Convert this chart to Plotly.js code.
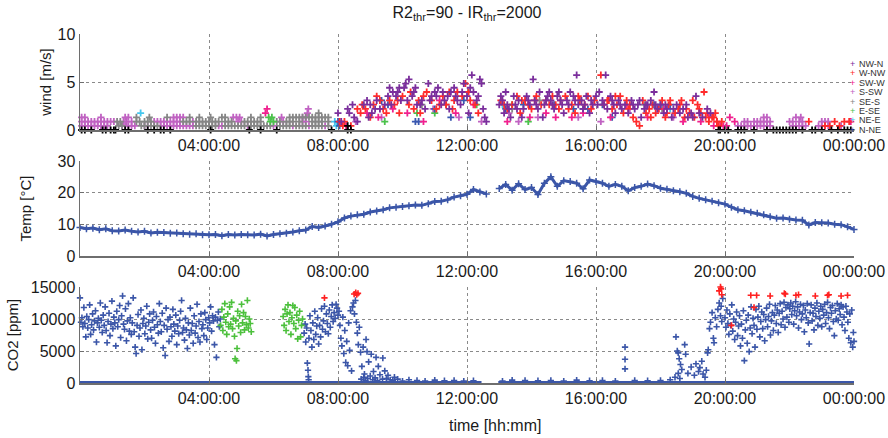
<!DOCTYPE html>
<html><head><meta charset="utf-8">
<script src="https://cdn.plot.ly/plotly-3.0.1.min.js"></script>
<style>html,body{margin:0;padding:0;background:#fff}#chart{width:888px;height:438px}</style>
</head><body><div id="chart"></div>
<script>
// ---------- axis ticks ----------
const timeTicks = [4, 8, 12, 16, 20, 24];
const timeLabels = ['04:00:00', '08:00:00', '12:00:00', '16:00:00', '20:00:00', '00:00:00'];
const windTicks = [0, 5, 10];
const tempTicks = [0, 10, 20, 30];
const co2Ticks = [0, 5000, 10000, 15000];
const co2TickLabels = ['0', '5000', '10000', '15000'];

// ---------- wind categories ----------
const windNames = ['NW-N', 'W-NW', 'SW-W', 'S-SW', 'SE-S', 'E-SE', 'NE-E', 'N-NE'];
const windColors = ['#7a2e9c', '#ff2b2b', '#f0208e', '#c062c2', '#868686', '#4cc24c', '#44c6ee', '#3a58b0'];

// [hour, m/s]
const windNWN = [
 [8.0,1.76],[8.1,0.88],[8.3,2.2],[8.35,1.76],[8.5,1.32],[8.6,0.88],[8.8,2.64],[8.9,3.08],[9.0,2.64],[9.05,1.76],
 [9.2,3.08],[9.3,2.2],[9.45,2.64],[9.55,3.52],[9.6,4.4],[9.7,3.96],[9.8,3.52],[9.85,3.96],[9.95,3.08],
 [10.05,4.4],[10.1,4.84],[10.2,5.28],[10.3,3.52],[10.4,4.4],[10.45,2.64],[10.6,3.08],[10.7,2.2],[10.8,4.84],[10.9,3.52],
 [11.0,3.96],[11.1,4.4],[11.2,2.64],[11.3,3.08],[11.4,3.52],[11.5,3.96],[11.6,4.4],[11.7,3.08],[11.8,2.64],[11.9,4.84],
 [12.0,3.52],[12.05,1.76],[12.15,5.72],[12.2,3.96],[12.3,3.08],[12.4,5.28],[12.45,4.84],[12.5,2.2],[12.55,1.32],[12.6,0.88],
 [13.0,2.64],[13.1,3.08],[13.15,1.76],[13.2,3.96],[13.3,2.2],[13.35,1.32],[13.45,3.52],[13.5,2.64],[13.6,3.08],[13.7,1.32],[13.75,2.2],[13.85,3.52],[13.95,2.64],
 [14.05,5.28],[14.1,3.08],[14.2,2.2],[14.25,3.96],[14.35,1.32],[14.4,2.64],[14.5,3.52],[14.55,3.96],[14.6,3.08],[14.7,2.2],[14.8,3.52],[14.85,3.96],[14.95,2.64],
 [15.0,1.76],[15.1,3.08],[15.2,3.96],[15.3,3.52],[15.4,5.72],[15.45,2.64],[15.55,3.08],[15.6,2.2],[15.7,3.52],[15.8,1.76],[15.9,2.64],
 [16.05,2.64],[16.1,3.96],[16.2,3.08],[16.3,5.72],[16.35,2.2],[16.45,3.52],[16.55,2.64],[16.6,1.76],[16.7,3.08],[16.8,2.2],[16.9,2.64],
 [17.0,1.76],[17.1,3.08],[17.2,2.2],[17.3,2.64],[17.4,1.32],[17.5,2.2],[17.6,2.64],[17.7,3.08],[17.8,3.96],[17.9,2.2],
 [18.0,2.64],[18.1,1.76],[18.2,2.2],[18.35,1.32],[18.5,2.64],[18.6,1.76],[18.7,2.2],[18.85,1.32],[18.95,1.76],
 [19.1,3.52],[19.2,1.76],[19.3,1.32],[19.45,2.2],[19.55,1.76],
 [8.45,2.64],[8.95,1.32],[9.15,2.2],[9.65,2.64],[9.9,4.4],[10.15,3.08],[10.35,3.96],[10.55,2.64],[10.85,3.08],[11.05,3.52],
 [11.25,3.96],[11.45,2.2],[11.65,3.52],[11.85,3.96],[12.1,4.4],[12.35,3.52],[13.05,3.52],[13.25,2.64],[13.55,2.2],[13.9,3.08],
 [14.15,2.64],[14.45,3.08],[14.65,2.64],[14.9,3.08],[15.15,2.64],[15.35,3.08],[15.65,2.64],[15.85,3.08],[16.0,3.52],[16.25,2.64],
 [16.5,3.08],[16.75,2.64],[17.15,2.64],[17.35,3.08],[17.55,2.64],[17.85,2.64],[18.15,2.64],[18.4,2.2],[18.8,2.64],[19.0,1.32]
];
const windWNW = [
 [8.05,0.88],[8.15,0.44],[8.2,0.88],[8.4,0.44],[8.6,2.2],[8.7,1.76],[8.75,2.64],[9.0,1.32],[9.1,2.64],[9.2,3.52],
 [9.4,2.2],[9.5,1.76],[9.6,3.08],[9.75,2.64],[9.9,1.76],[10.0,3.52],[10.25,3.96],[10.35,2.2],[10.5,3.08],[10.55,1.76],
 [10.75,3.96],[10.9,3.08],[11.05,2.2],[11.25,3.52],[11.35,2.64],[11.45,3.96],[11.55,2.2],[11.7,3.96],[11.85,3.52],[11.95,4.84],
 [12.1,3.08],[12.25,2.64],[12.35,1.76],[13.05,3.08],[13.25,2.2],[13.4,2.64],[13.55,3.52],[13.65,1.76],[13.8,3.08],[13.9,2.64],
 [14.0,2.2],[14.15,3.52],[14.3,2.64],[14.45,3.08],[14.65,3.52],[14.75,2.64],[14.9,3.08],[15.05,3.52],[15.15,2.2],[15.25,2.64],
 [15.35,1.76],[15.5,3.08],[15.65,2.64],[15.75,3.52],[15.85,2.2],[16.15,5.72],[16.25,2.64],[16.4,3.08],[16.5,2.2],[16.65,2.64],
 [16.75,3.52],[16.85,1.76],[16.95,3.08],[17.05,2.64],[17.15,1.32],[17.25,0.88],[17.35,0.44],[17.45,3.08],[17.55,1.76],[17.7,1.32],
 [17.75,2.64],[17.85,1.76],[17.95,2.2],[18.05,3.08],[18.15,1.32],[18.25,2.64],[18.3,3.08],[18.45,1.76],[18.55,2.2],[18.65,3.08],
 [18.75,1.32],[18.8,2.2],[18.9,1.76],[19.0,3.08],[19.05,1.32],[19.15,2.64],[19.25,1.76],[19.35,3.96],[19.4,1.32],[19.5,0.88],
 [19.6,1.32],[19.7,1.76],[19.75,0.88],[19.8,0.44],[19.9,0.88],[22.6,0.88],[23.1,0.44],[23.25,0.44],[23.4,0.88],[23.55,0.44],[23.7,0.88],[23.85,0.88],
 [8.85,2.2],[9.3,3.08],[9.85,3.08],[10.2,2.64],[10.65,3.52],[11.15,2.64],[11.6,3.08],[12.05,3.96],[13.15,2.64],[13.7,3.08],
 [14.1,3.08],[14.55,2.64],[14.85,2.2],[15.45,3.52],[15.95,3.08],[16.35,3.08],[16.6,3.52],[17.0,2.2],[17.65,2.2],[18.2,1.76],
 [18.6,2.64],[19.2,2.2],[19.45,1.76],[19.65,1.32]
];
const windSWW = [
 [5.75,1.76],[5.8,2.2],[8.25,0.44],[8.9,1.76],[9.25,1.32],[9.7,2.2],[10.15,1.76],[10.65,0.88],[11.15,3.08],[11.65,1.76],
 [12.2,2.64],[13.25,0.88],[13.95,1.32],[14.45,1.76],[14.75,1.32],[15.25,1.32],[15.6,1.76],[16.45,1.32],[16.95,2.64],[17.6,1.32],
 [18.1,2.2],[18.7,0.88],[19.25,0.88],[19.5,1.32],[19.65,0.44],[19.75,0.88],[19.85,0.44],[19.95,0.44],[20.05,0.44],[20.15,1.32],[20.3,0.88],[23.9,0.88]
];
const windSSW = [
 [0.05,0.88],[0.15,0.88],[0.25,0.88],[0.35,0.88],[0.45,0.88],[0.55,0.88],[0.65,0.88],[0.75,0.88],[0.85,0.88],[0.95,0.88],[1.05,0.88],
 [1.35,0.88],[1.45,0.88],[1.6,0.88],[2.3,0.88],[2.4,0.88],[2.5,0.88],[2.6,0.88],[2.7,0.88],[2.8,0.88],[2.9,0.88],[3.0,0.88],[3.1,0.88],
 [3.5,0.88],[4.9,0.88],[5.0,0.88],[6.3,0.88],[6.9,0.88],[7.0,0.88],
 [0.05,0.44],[0.15,0.44],[0.25,0.44],[0.35,0.44],[0.45,0.44],[0.55,0.44],[0.65,0.44],[0.75,0.44],[0.85,0.44],[1.3,0.44],[1.4,0.44],
 [1.5,0.44],[1.6,0.44],[1.7,0.44],[2.0,0.44],[2.1,0.44],[2.5,0.44],[2.6,0.44],[2.7,0.44],[2.8,0.44],[2.9,0.44],[3.0,0.44],[3.1,0.44],
 [3.2,0.44],[3.3,0.44],[3.4,0.44],[3.5,0.44],[4.3,0.44],[4.4,0.44],[5.2,0.44],[6.0,0.44],[6.6,0.44],[7.1,0.44],[7.6,0.44],
 [0.05,1.32],[0.15,1.32],[0.65,1.32],[1.4,1.32],[1.5,1.32],[2.9,1.32],[3.0,1.32],[3.1,1.32],[3.2,1.32],[4.75,1.32],[4.85,1.32],
 [4.95,1.32],[6.25,1.32],[6.9,1.32],[7.0,1.32],[7.05,1.76],[7.08,2.2],
 [8.55,0.88],[9.35,1.32],[10.95,2.2],[11.75,1.32],[12.45,0.88],[13.3,1.76],[13.6,0.88],[14.2,1.32],[15.45,1.32],[16.15,0.88],[17.05,2.2],[18.4,1.32],
 [20.4,0.44],[20.5,0.44],[20.6,0.44],[20.7,0.44],[20.8,0.44],[20.9,0.44],[21.0,0.44],[21.1,0.44],[21.2,0.44],[21.3,0.44],[21.4,0.44],
 [22.1,0.44],[22.2,0.44],[22.3,0.44],[22.4,0.44],[22.5,0.44],[22.9,0.44],[23.0,0.44],[23.1,0.44],[23.2,0.44],[23.6,0.44],
 [20.6,0.88],[20.7,0.88],[20.9,0.88],[21.0,0.88],[21.1,0.88],[21.2,0.88],[21.3,0.88],[21.4,0.88],[22.0,0.88],[22.1,0.88],[22.3,0.88],
 [22.4,0.88],[23.0,0.88],[23.1,0.88],[23.2,0.88],[21.2,1.32],[21.3,1.32],[22.2,1.32],[22.35,1.32]
];
const windSES = [
 [1.75,1.32],[2.15,1.32],[2.7,1.32],[3.4,1.32],[3.7,1.32],[4.05,1.32],[4.4,1.32],[4.5,1.32],[5.3,1.32],[5.6,1.32],[6.5,1.32],[6.6,1.32],
 [6.7,1.32],[6.8,1.32],[6.9,1.32],[7.0,1.32],[7.1,1.32],[7.2,1.32],[7.3,1.32],[7.4,1.32],[7.5,1.32],[7.6,1.32],[7.7,1.32],[7.4,1.76],
 [1.15,0.88],[1.25,0.88],[1.75,0.88],[1.85,0.88],[2.0,0.88],[2.1,0.88],[2.2,0.88],[3.2,0.88],[3.3,0.88],[3.4,0.88],[3.6,0.88],[3.7,0.88],
 [3.8,0.88],[3.9,0.88],[4.0,0.88],[4.1,0.88],[4.2,0.88],[4.3,0.88],[4.5,0.88],[4.6,0.88],[4.7,0.88],[5.1,0.88],[5.2,0.88],[5.3,0.88],
 [5.4,0.88],[5.5,0.88],[5.6,0.88],[6.1,0.88],[6.2,0.88],[6.4,0.88],[6.5,0.88],[6.6,0.88],[6.8,0.88],[7.2,0.88],[7.3,0.88],[7.4,0.88],
 [7.5,0.88],[7.7,0.88],
 [1.2,0.44],[1.3,0.44],[1.9,0.44],[2.0,0.44],[2.2,0.44],[2.3,0.44],[2.4,0.44],[3.6,0.44],[3.7,0.44],[3.8,0.44],[3.9,0.44],[4.0,0.44],
 [4.1,0.44],[4.2,0.44],[4.5,0.44],[4.6,0.44],[4.7,0.44],[4.8,0.44],[4.9,0.44],[5.0,0.44],[5.1,0.44],[5.3,0.44],[5.4,0.44],[5.5,0.44],
 [5.6,0.44],[5.7,0.44],[5.8,0.44],[5.9,0.44],[6.2,0.44],[6.3,0.44],[6.4,0.44],[6.5,0.44],[6.7,0.44],[6.8,0.44],[6.9,0.44],[7.0,0.44],
 [7.2,0.44],[7.3,0.44],[7.4,0.44],[7.5,0.44],[7.7,0.44],
 [10.6,2.64],[11.35,2.64],[13.4,2.2],[14.25,3.08],[17.5,2.64],[18.05,2.2]
];
const windESE = [[5.85,1.32],[5.9,0.88],[5.95,1.32],[6.0,0.88],[9.45,0.88],[10.45,1.76],[11.0,1.76],[12.3,2.64],[13.4,2.64],[13.9,0.88]];
const windNEE = [[1.88,1.76],[7.9,0.88],[7.95,0.44],[13.1,2.64],[18.3,2.2]];
const windNNE = [
 [8.0,0.88],[8.05,0.44],[9.35,3.08],[9.55,2.64],[10.4,0.88],[10.5,0.88],[11.0,2.2],[11.5,1.32],[11.9,3.08],[12.1,1.32],
 [13.2,2.2],[13.75,2.64],[14.7,2.64],[15.3,2.2],[15.6,2.2],[15.75,2.2],[16.2,2.64],[16.5,1.32],[17.8,2.64],[18.0,2.64],[18.3,2.64]
];
const windCalm = [
 [0.05,0],[0.15,0],[0.35,0],[0.7,0],[0.8,0],[0.95,0],[1.05,0],[1.1,0],[1.4,0],[1.5,0],[2.1,0],[2.3,0],[2.5,0],[2.6,0],[2.8,0],
 [4.05,0],[5.25,0],[5.6,0],[6.1,0],[7.8,0],[8.3,0],[8.3,0.44],[8.4,0],[19.8,0],[19.85,0],[20.0,0],[20.1,0],[20.4,0],[20.5,0],[20.6,0],
 [20.9,0],[21.3,0],[21.5,0],[21.6,0],[21.7,0],[21.8,0],[21.9,0],[22.0,0],[22.1,0],[22.2,0],[22.4,0],[22.7,0],[22.8,0],[23.0,0],
 [23.3,0],[23.5,0],[23.7,0],[23.8,0],[23.9,0]
];
const windSeries = [windNWN, windWNW, windSWW, windSSW, windSES, windESE, windNEE, windNNE];

// ---------- temperature [hour, °C] ----------
const temp = [
 [0.0,9.0],[0.2,8.6],[0.4,8.8],[0.6,8.3],[0.8,8.6],[1.0,8.0],[1.2,7.9],[1.4,8.2],[1.6,7.8],[1.8,7.6],
 [2.0,7.8],[2.2,7.3],[2.4,7.5],[2.6,7.4],[2.8,7.2],[3.0,7.3],[3.2,7.0],[3.4,6.9],[3.6,7.0],[3.8,6.7],
 [4.0,6.7],[4.2,6.8],[4.4,6.4],[4.6,6.8],[4.8,6.6],[5.0,6.8],[5.2,6.7],[5.4,6.6],[5.6,6.9],[5.8,6.3],
 [6.0,6.8],[6.2,7.0],[6.4,7.2],[6.6,7.6],[6.8,8.0],[7.0,8.2],[7.2,9.3],[7.4,9.0],[7.6,9.5],[7.8,10.0],
 [8.0,10.8],[8.2,12.0],[8.4,12.6],[8.6,13.0],[8.8,13.2],[9.0,13.9],[9.2,14.2],[9.4,14.6],[9.6,15.2],[9.8,15.4],
 [10.0,15.6],[10.2,15.9],[10.4,16.1],[10.6,16.0],[10.8,16.5],[11.0,17.2],[11.2,17.3],[11.4,17.8],[11.6,18.6],[11.8,19.0],
 [12.0,19.5],[12.2,21.0],[12.4,20.2],[12.6,19.6],[12.8,null],
 [13.0,21.3],[13.2,22.6],[13.4,20.8],[13.6,22.8],[13.8,21.0],[14.0,21.6],[14.2,19.4],[14.4,23.0],[14.6,25.0],[14.8,22.0],
 [15.0,23.8],[15.2,23.5],[15.4,23.0],[15.6,21.2],[15.8,24.0],[16.0,23.5],[16.2,23.0],[16.4,22.0],[16.6,22.6],[16.8,22.0],
 [17.0,20.6],[17.2,21.6],[17.4,22.0],[17.6,22.7],[17.8,22.2],[18.0,21.4],[18.2,21.1],[18.4,20.6],[18.6,20.3],[18.8,19.8],
 [19.0,18.8],[19.2,18.2],[19.4,17.8],[19.6,17.3],[19.8,16.8],[20.0,16.4],[20.2,15.4],[20.4,14.6],[20.6,14.3],[20.8,13.8],
 [21.0,13.5],[21.2,13.0],[21.4,12.4],[21.6,11.9],[21.8,12.0],[22.0,11.6],[22.2,11.4],[22.4,11.3],[22.6,9.8],[22.8,10.6],
 [23.0,10.5],[23.2,10.4],[23.4,10.0],[23.6,9.9],[23.8,9.2],[24.0,8.4]
];

// ---------- CO2 [hour, ppm] ----------
const co2ZeroT = [0, 12.45, null, 12.97, 24];
const co2ZeroV = [0, 0, null, 0, 0];
const co2Blue = [
 [0.00,13300],[0.03,9500],[0.06,10200],[0.09,8800],[0.12,11800],[0.15,9300],[0.18,7200],[0.21,10400],[0.24,8600],[0.27,9900],
 [0.30,12200],[0.33,7600],[0.36,9100],[0.39,10800],[0.42,8300],[0.45,9700],[0.48,11300],[0.51,6400],[0.54,9400],[0.57,10100],
 [0.60,8700],[0.63,12500],[0.66,9800],[0.69,7900],[0.72,10600],[0.75,9000],[0.78,11900],[0.81,8200],[0.84,6300],[0.87,9600],
 [0.90,10900],[0.93,7400],[0.96,9200],[0.99,12800],[1.02,8500],[1.05,10300],[1.08,9400],[1.11,5800],[1.14,11200],[1.17,8800],
 [1.20,9900],[1.23,12100],[1.26,7100],[1.29,10500],[1.32,13600],[1.35,9200],[1.38,8400],[1.41,11600],[1.44,6600],[1.47,9700],
 [1.50,12400],[1.53,8100],[1.56,10200],[1.59,7600],[1.62,9400],[1.65,13300],[1.68,8000],[1.71,5600],[1.74,4600],[1.77,9000],
 [1.80,10700],[1.83,7300],[1.86,8600],[1.89,11400],[1.92,5200],[1.95,9300],[1.98,10100],[2.01,7700],[2.04,8900],[2.07,12000],
 [2.10,6900],[2.13,9500],[2.16,10800],[2.19,8300],[2.22,7000],[2.25,9800],[2.28,11100],[2.31,8700],[2.34,6200],[2.37,10400],
 [2.40,9100],[2.43,7800],[2.46,12400],[2.49,9600],[2.52,8000],[2.55,10900],[2.58,5500],[2.61,9000],[2.64,4300],[2.67,11700],
 [2.70,8400],[2.73,9900],[2.76,6500],[2.79,10300],[2.82,8800],[2.85,7300],[2.88,11500],[2.91,9200],[2.94,8100],[2.97,10600],
 [3.00,6000],[3.03,8900],[3.06,7700],[3.09,9800],[3.12,11200],[3.15,12900],[3.18,7900],[3.21,8600],[3.24,6700],[3.27,10100],
 [3.30,8300],[3.33,5400],[3.36,9400],[3.39,7500],[3.42,11700],[3.45,8200],[3.48,9300],[3.51,6200],[3.54,10500],[3.57,7800],
 [3.60,8900],[3.63,12300],[3.66,7100],[3.69,9600],[3.72,6400],[3.75,10800],[3.78,8500],[3.81,9100],[3.84,7400],[3.87,11000],
 [3.90,9900],[3.93,6800],[3.96,8600],[3.99,10200],[4.02,9400],[4.05,11900],[4.08,8100],[4.11,10500],[4.14,9700],[4.17,6000],
 [4.20,10300],[4.23,4000],[4.26,9800],[4.29,11100],[4.32,8800],[4.35,10000],
 [6.95,7800],[6.98,9200],[7.00,6400],[7.03,8600],[7.05,3100],[7.07,2000],[7.08,1000],[7.09,500],[7.10,7000],[7.13,10500],
 [7.16,8200],[7.19,5600],[7.22,9400],[7.25,6800],[7.28,11200],[7.31,7600],[7.34,8900],[7.37,10200],[7.40,6100],[7.43,9000],
 [7.46,7200],[7.49,11600],[7.52,8400],[7.55,9700],[7.58,12000],[7.61,8000],[7.64,10800],[7.67,9300],[7.70,7700],[7.73,11400],
 [7.76,8700],[7.79,10400],[7.82,12200],[7.85,9600],[7.88,11000],[7.91,10100],[7.94,12300],[7.97,11700],[8.00,10600],[8.03,11200],
 [8.06,9000],[8.09,7000],[8.12,5800],[8.15,10300],[8.18,4600],[8.21,8200],[8.24,3200],[8.27,6500],[8.30,2700],[8.33,9400],
 [8.36,5100],[8.39,11300],[8.42,1900],[8.45,11900],[8.48,12500],[8.51,10800],[8.54,12900],[8.57,9500],[8.60,7800],[8.63,6000],
 [8.66,8700],[8.70,4800],[8.74,2600],[8.78,5600],[8.82,1400],[8.87,6800],[8.90,4900],[8.95,3300],[9.03,4500],[9.10,1800],
 [9.18,4000],[9.25,2600],[9.39,3900],[9.45,1900],[9.55,1200],[9.75,900],
 [8.72,600],[8.80,900],[8.85,400],[8.92,700],[9.00,1100],[9.08,500],[9.15,800],[9.22,400],[9.30,1300],[9.38,600],
 [9.50,700],[9.62,500],[9.70,400],[9.85,600],[10.0,300],[10.2,500],[10.45,400],[10.7,300],[11.0,450],[11.3,350],
 [11.6,400],[11.9,300],[12.2,350],[13.1,300],[13.4,450],[13.8,400],[14.2,350],[14.6,400],[15.0,300],[15.4,450],
 [15.8,350],[16.2,400],[16.6,300],[16.9,2200],[16.9,3700],[16.9,5600],[17.2,400],[17.6,350],[18.0,400],[18.3,500],
 [18.45,900],[18.55,1500],[18.6,700],
 [18.48,7200],[18.52,5000],[18.55,4700],[18.58,3800],[18.62,2900],[18.66,2100],[18.75,6000],[18.78,4500],[18.85,1500],[18.95,2500],
 [19.05,1200],[19.10,3000],[19.18,1800],[19.22,2400],[19.28,3400],[19.32,1400],[19.38,900],[19.42,2000],[19.46,4700],[19.48,5200],
 [19.52,8500],[19.55,9500],[19.60,11000],[19.64,7000],[19.66,6300],[19.70,10200],[19.74,8800],[19.78,11500],[19.82,12500],[19.86,10500],
 [19.88,12000],[19.90,9600],[19.93,13200],
 [20.00,10200],[20.03,8700],[20.06,11400],[20.09,9300],[20.12,7600],[20.15,10800],[20.18,9000],[20.21,12200],[20.24,8100],[20.27,10000],
 [20.30,6800],[20.33,9500],[20.36,11100],[20.39,7400],[20.42,8900],[20.45,10500],[20.48,5800],[20.51,9200],[20.54,7000],[20.57,11300],
 [20.60,3500],[20.63,8300],[20.66,9800],[20.69,6200],[20.72,10600],[20.75,4900],[20.78,8600],[20.81,11900],[20.84,7700],[20.87,10100],
 [20.90,9000],[20.93,5600],[20.96,11500],[20.99,8400],[21.02,10300],[21.05,12000],[21.08,7200],[21.11,9600],[21.14,11100],[21.17,8500],
 [21.20,10700],[21.23,6600],[21.26,9900],[21.29,11700],[21.32,8800],[21.35,10400],[21.38,12300],[21.41,7500],[21.44,9700],[21.47,11000],
 [21.50,8200],[21.53,10600],[21.56,12100],[21.59,9300],[21.62,11400],[21.65,7900],[21.68,10900],[21.71,12400],[21.74,9100],[21.77,11200],
 [21.80,10000],[21.83,12600],[21.86,8700],[21.89,11800],[21.92,10300],[21.95,12200],[21.98,9500],[22.01,11600],[22.04,12500],[22.07,10700],
 [22.10,12000],[22.13,9200],[22.16,11300],[22.19,12700],[22.22,10500],[22.25,11900],[22.28,8600],[22.31,11100],[22.34,12300],[22.37,9900],
 [22.40,10800],[22.43,12100],[22.46,8000],[22.49,11400],[22.52,10200],[22.55,12400],[22.58,9400],[22.61,6100],[22.64,11000],[22.67,12200],
 [22.70,9700],[22.73,10900],[22.76,8300],[22.79,11700],[22.82,10400],[22.85,12500],[22.88,9000],[22.91,11200],[22.94,10100],[22.97,12000],
 [23.00,8800],[23.03,11500],[23.06,10600],[23.09,12300],[23.12,9300],[23.15,11000],[23.18,12600],[23.21,10200],[23.24,8500],[23.27,11800],
 [23.30,10900],[23.33,12100],[23.36,9600],[23.39,7400],[23.42,11300],[23.45,10000],[23.48,12400],[23.51,9800],[23.54,11600],[23.57,10700],
 [23.60,12200],[23.63,9100],[23.66,11900],[23.69,10300],[23.72,8200],[23.75,12000],[23.78,11100],[23.81,9500],[23.84,7000],[23.87,10800],
 [23.90,6300],[23.93,11400],[23.96,5600],[23.98,7900],[24.00,6500]
];
const co2Green = [
 [4.36,9000],[4.40,11500],[4.43,8200],[4.46,10300],[4.49,12400],[4.52,9500],[4.55,7600],[4.58,10800],[4.61,8800],[4.64,11900],
 [4.67,9200],[4.70,12600],[4.73,8500],[4.76,10100],[4.79,7300],[4.81,3800],[4.83,9700],[4.85,3500],[4.87,5400],[4.89,11200],
 [4.92,8900],[4.95,10500],[4.98,7900],[5.01,12300],[5.04,9400],[5.07,11000],[5.10,8300],[5.13,10400],[5.16,9100],[5.19,12900],
 [5.22,8600],[5.25,10000],[5.28,9300],[5.31,8000],
 [6.30,10400],[6.33,9000],[6.36,11500],[6.39,8200],[6.42,10800],[6.45,12200],[6.48,9600],[6.51,11000],[6.54,7600],[6.57,10200],
 [6.60,12100],[6.63,9300],[6.66,11800],[6.69,8500],[6.72,10600],[6.75,6900],[6.78,9800],[6.81,11200],[6.84,7200],[6.87,9000],[6.90,10000]
];
const co2Red = [
 [7.58,13300],[8.50,13900],[8.55,14100],[8.58,13800],[8.62,14000],[19.82,14400],[19.86,15000],[19.88,14700],[19.90,13800],[20.20,9000],
 [20.80,13700],[20.90,11800],[20.98,13700],[21.40,13600],[21.84,14000],[21.87,13900],[22.20,13700],[22.28,13800],[22.80,13600],
 [23.18,13700],[23.22,13800],[23.60,13600],[23.80,13700]
];

// ---------- build ----------
const BLUE = '#3b56a8';
const X = p => p.map(d => d[0]);
const Y = p => p.map(d => d[1]);
const plus = (c, s, w) => ({symbol: 'cross-thin', size: s, color: c, line: {color: c, width: w}});
const traces = [];
const order = [3, 4, 5, 6, 7, 2, 1, 0];
order.forEach(i => {
  traces.push({type: 'scatter', mode: 'markers', x: X(windSeries[i]), y: Y(windSeries[i]), xaxis: 'x', yaxis: 'y',
    name: windNames[i], cliponaxis: false, marker: plus(windColors[i], 5, 1.8)});
});
traces.push({type: 'scatter', mode: 'markers', x: X(windCalm), y: Y(windCalm), xaxis: 'x', yaxis: 'y', name: 'calm',
  cliponaxis: false, marker: plus('#000', 5, 1.8)});
traces.push({type: 'scatter', mode: 'lines+markers', x: X(temp), y: Y(temp), xaxis: 'x2', yaxis: 'y2', connectgaps: false,
  line: {color: BLUE, width: 3}, marker: plus(BLUE, 5, 1.5), cliponaxis: false});
traces.push({type: 'scatter', mode: 'lines', x: co2ZeroT, y: co2ZeroV, xaxis: 'x3', yaxis: 'y3', connectgaps: false,
  line: {color: BLUE, width: 4}, cliponaxis: false});
traces.push({type: 'scatter', mode: 'markers', x: X(co2Blue), y: Y(co2Blue), xaxis: 'x3', yaxis: 'y3', cliponaxis: false,
  marker: plus(BLUE, 4.5, 1.6)});
traces.push({type: 'scatter', mode: 'markers', x: X(co2Green), y: Y(co2Green), xaxis: 'x3', yaxis: 'y3', cliponaxis: false,
  marker: plus('#4cc03c', 4.5, 1.6)});
traces.push({type: 'scatter', mode: 'markers', x: X(co2Red), y: Y(co2Red), xaxis: 'x3', yaxis: 'y3', cliponaxis: false,
  marker: plus('#ff2020', 4.5, 1.6)});

const H = 438, L = 80, R = 34, W = 888 - L - R;
const py = y => 1 - y / H;
const px = x => (x - L) / W;
const AX = '#6e6e6e';
function xax(anchor) {
  return {anchor, domain: [0, 1], range: [0, 24], tickmode: 'array', tickvals: timeTicks, ticktext: timeLabels,
    showgrid: true, gridcolor: '#8a8a8a', griddash: 'dot', gridwidth: 1, showline: true, linecolor: AX, linewidth: 1.5,
    ticks: 'inside', ticklen: 4, tickcolor: AX, zeroline: false, tickfont: {size: 16, color: '#1a1a1a'}, fixedrange: true};
}
function yax(domain, range, ticks, labels, title, standoff) {
  return {domain, range, tickmode: 'array', tickvals: ticks, ticktext: labels, showgrid: true, gridcolor: '#8a8a8a',
    griddash: 'dot', gridwidth: 1, showline: true, linecolor: AX, linewidth: 1.5, ticks: 'inside', ticklen: 4, tickcolor: AX,
    zeroline: false, tickfont: {size: 16, color: '#1a1a1a'}, fixedrange: true,
    title: {text: title, font: {size: 15, color: '#1a1a1a'}, standoff}};
}

const annotations = [{xref: 'paper', yref: 'paper', x: px(495), y: py(425), text: 'time [hh:mm]', showarrow: false,
  xanchor: 'center', yanchor: 'middle', font: {size: 16, color: '#1a1a1a'}}];
const legY = [64, 73.3, 82.7, 92, 101.7, 111, 120.3, 129.5];
windNames.forEach((n, i) => {
  annotations.push({xref: 'paper', yref: 'paper', x: px(852), y: py(legY[i]), text: '+', showarrow: false,
    xanchor: 'center', yanchor: 'middle', font: {size: 9, color: windColors[i]}});
  annotations.push({xref: 'paper', yref: 'paper', x: px(856.5), y: py(legY[i]), text: n, showarrow: false,
    xanchor: 'left', yanchor: 'middle', font: {size: 9, color: '#333'}});
});

const layout = {
  width: 888, height: 438, margin: {l: L, r: R, t: 0, b: 0}, paper_bgcolor: '#fff', plot_bgcolor: '#fff',
  showlegend: false, hovermode: false,
  font: {family: 'Liberation Sans, Arial, sans-serif', size: 16, color: '#1a1a1a'},
  title: {text: 'R2<sub>thr</sub>=90 - IR<sub>thr</sub>=2000', xref: 'paper', x: 0.5, xanchor: 'center',
    yref: 'container', y: py(12), yanchor: 'middle', font: {size: 16, color: '#1a1a1a'}},
  xaxis: xax('y'), xaxis2: xax('y2'), xaxis3: xax('y3'),
  yaxis: yax([py(130), py(34)], [0, 10], windTicks, windTicks.map(String), 'wind [m/s]', 2),
  yaxis2: yax([py(256), py(161)], [0, 30], tempTicks, tempTicks.map(String), 'Temp [°C]', 22),
  yaxis3: yax([py(383), py(287)], [0, 15000], co2Ticks, co2TickLabels, 'CO2 [ppm]', 8),
  annotations
};
Plotly.newPlot('chart', traces, layout, {staticPlot: true, displayModeBar: false});
</script></body></html>
